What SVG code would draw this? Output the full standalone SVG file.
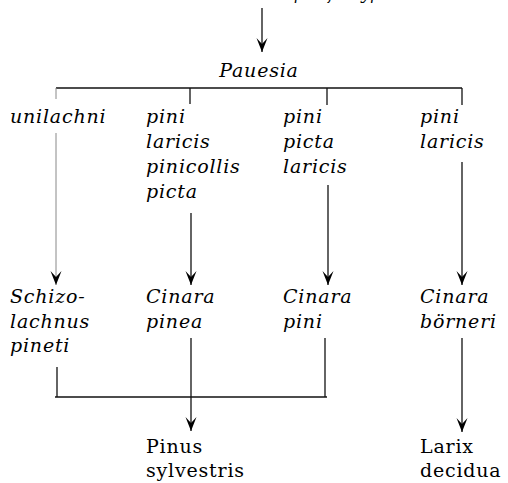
<svg xmlns="http://www.w3.org/2000/svg" width="508" height="483" viewBox="0 0 508 483">
<style>
text{font-family:"DejaVu Serif","Liberation Serif",serif;font-size:19px;letter-spacing:0.8px;fill:#000}
.it{font-style:italic}
.ln{stroke:#111;stroke-width:1.3;fill:none}
.fa{stroke:#888;stroke-width:1;fill:none}
</style>
<defs>
<marker id="ah" viewBox="-15 -6 16 12" refX="0" refY="0" markerWidth="16" markerHeight="12" markerUnits="userSpaceOnUse" orient="auto">
<path d="M0,0 L-14,-5.5 L-8,0 L-14,5.5 Z" fill="#000"/>
</marker>
</defs>
<rect width="508" height="483" fill="#fff"/>
<g id="top"><text class="it" x="138" y="-1" textLength="252" lengthAdjust="spacingAndGlyphs">ancestral lachnid-specific type</text></g>
<g id="pauesia"><text class="it" x="259" y="77" text-anchor="middle">Pauesia</text></g>
<g id="unilachni"><text class="it" x="10" y="123">unilachni</text></g>
<g id="group2"><text class="it" x="146" y="123">pini</text><text class="it" x="146" y="148">laricis</text><text class="it" x="146" y="173">pinicollis</text><text class="it" x="146" y="198">picta</text></g>
<g id="group3"><text class="it" x="283" y="123">pini</text><text class="it" x="283" y="148">picta</text><text class="it" x="283" y="173">laricis</text></g>
<g id="group4"><text class="it" x="420" y="123">pini</text><text class="it" x="420" y="148">laricis</text></g>
<g id="schizolachnus"><text class="it" x="10" y="303">Schizo-</text><text class="it" x="10" y="328">lachnus</text><text class="it" x="10" y="352">pineti</text></g>
<g id="cinara-pinea"><text class="it" x="146" y="303">Cinara</text><text class="it" x="146" y="328">pinea</text></g>
<g id="cinara-pini"><text class="it" x="283" y="303">Cinara</text><text class="it" x="283" y="328">pini</text></g>
<g id="cinara-borneri"><text class="it" x="420" y="303">Cinara</text><text class="it" x="420" y="328">börneri</text></g>
<g id="pinus"><text x="146" y="453">Pinus</text><text x="146" y="477">sylvestris</text></g>
<g id="larix"><text x="420" y="453">Larix</text><text x="420" y="477">decidua</text></g>
<g id="connectors">
<line class="ln" x1="262" y1="8" x2="262" y2="52" marker-end="url(#ah)"/>
<line class="ln" x1="56" y1="88" x2="462" y2="88"/>
<line class="fa" x1="56" y1="88" x2="56" y2="99"/>
<line class="ln" x1="190" y1="88" x2="190" y2="104"/>
<line class="ln" x1="327" y1="88" x2="327" y2="105"/>
<line class="ln" x1="462" y1="88" x2="462" y2="105"/>
<line class="fa" x1="56" y1="133" x2="56" y2="285" marker-end="url(#ah)"/>
<line class="ln" x1="191" y1="213" x2="191" y2="285" marker-end="url(#ah)"/>
<line class="ln" x1="328" y1="185" x2="328" y2="285" marker-end="url(#ah)"/>
<line class="ln" x1="462" y1="162" x2="462" y2="285" marker-end="url(#ah)"/>
<line class="ln" x1="57" y1="367" x2="57" y2="397"/>
<line class="ln" x1="191" y1="338" x2="191" y2="397"/>
<line class="ln" x1="325" y1="338" x2="325" y2="397"/>
<line class="ln" x1="55" y1="397" x2="327" y2="397"/>
<line class="ln" x1="191" y1="397" x2="191" y2="431" marker-end="url(#ah)"/>
<line class="ln" x1="462" y1="338" x2="462" y2="432" marker-end="url(#ah)"/>
</g>
</svg>
